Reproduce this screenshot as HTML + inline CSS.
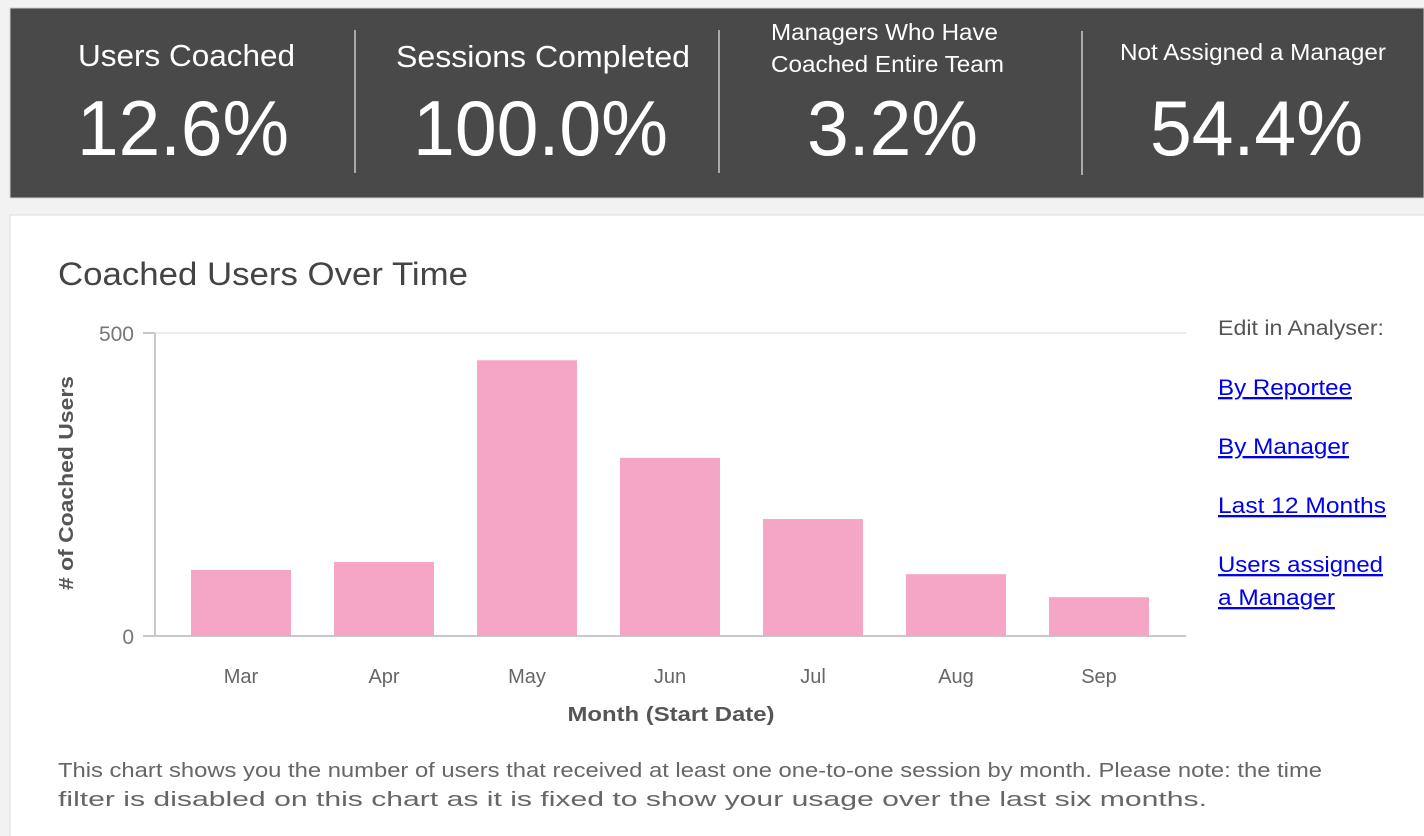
<!DOCTYPE html>
<html><head><meta charset="utf-8"><style>
html,body{margin:0;padding:0;background:#f2f2f2;width:1424px;height:836px;overflow:hidden;font-family:"Liberation Sans",sans-serif}
svg{display:block}
a{cursor:pointer}
</style></head><body>
<svg width="1424" height="836" viewBox="0 0 1424 836" xmlns="http://www.w3.org/2000/svg">
<rect x="0" y="0" width="1424" height="836" fill="#f2f2f2"/>
<g>
<rect x="10" y="8" width="1414" height="190" fill="#494949" stroke="#d0d0d0"/>
<line x1="355" y1="30" x2="355" y2="173" stroke="#aaa" stroke-width="2"/>
<line x1="719" y1="30" x2="719" y2="173" stroke="#aaa" stroke-width="2"/>
<line x1="1082" y1="31" x2="1082" y2="175" stroke="#aaa" stroke-width="2"/>
<g fill="#fff">
<text x="78" y="66" font-size="31" textLength="217" lengthAdjust="spacingAndGlyphs">Users Coached</text>
<text x="77" y="155" font-size="78" textLength="212" lengthAdjust="spacingAndGlyphs">12.6%</text>
<text x="396" y="67" font-size="31" textLength="294" lengthAdjust="spacingAndGlyphs">Sessions Completed</text>
<text x="413" y="155" font-size="78" textLength="255" lengthAdjust="spacingAndGlyphs">100.0%</text>
<text x="771" y="40" font-size="23" textLength="227" lengthAdjust="spacingAndGlyphs">Managers Who Have</text>
<text x="771" y="72" font-size="23" textLength="233" lengthAdjust="spacingAndGlyphs">Coached Entire Team</text>
<text x="807" y="155" font-size="78" textLength="171" lengthAdjust="spacingAndGlyphs">3.2%</text>
<text x="1120" y="60" font-size="23" textLength="266" lengthAdjust="spacingAndGlyphs">Not Assigned a Manager</text>
<text x="1150" y="155" font-size="78" textLength="213" lengthAdjust="spacingAndGlyphs">54.4%</text>
</g>
</g>
<rect x="10" y="215" width="1420" height="640" fill="#fff" stroke="#dcdcdc"/>
<text x="58" y="285" font-size="32" fill="#444" textLength="410" lengthAdjust="spacingAndGlyphs">Coached Users Over Time</text>
<g id="chart"></g>
<g>
<text x="1218" y="335" font-size="21" fill="#555" textLength="166" lengthAdjust="spacingAndGlyphs">Edit in Analyser:</text>
<g fill="#0000ee" font-size="22" text-decoration="underline">
<a><text x="1218" y="395" textLength="134" lengthAdjust="spacingAndGlyphs" text-decoration="underline">By Reportee</text></a>
<a><text x="1218" y="454" textLength="131" lengthAdjust="spacingAndGlyphs" text-decoration="underline">By Manager</text></a>
<a><text x="1218" y="513" textLength="168" lengthAdjust="spacingAndGlyphs" text-decoration="underline">Last 12 Months</text></a>
<a><text x="1218" y="572" textLength="165" lengthAdjust="spacingAndGlyphs" text-decoration="underline">Users assigned</text><text x="1218" y="605" textLength="117" lengthAdjust="spacingAndGlyphs" text-decoration="underline">a Manager</text></a>
</g>
</g>
<g fill="#666" font-size="20">
<text x="58" y="777" textLength="1264" lengthAdjust="spacingAndGlyphs">This chart shows you the number of users that received at least one one-to-one session by month. Please note: the time</text>
<text x="58" y="806" textLength="1149" lengthAdjust="spacingAndGlyphs">filter is disabled on this chart as it is fixed to show your usage over the last six months.</text>
</g>
</svg>
<script>
const categories = ["Mar","Apr","May","Jun","Jul","Aug","Sep"];
const values = [109,122,455,294,193,102,64];
const yTicks = [0,500];
const yMax = 500;
(function(){
  const NS="http://www.w3.org/2000/svg";
  const g=document.getElementById('chart');
  const x0=155,x1=1186,y0=636,y1=333;
  const firstCenter=241,step=143,bw=100;
  const y=v=>y0-(v/yMax)*(y0-y1);
  const x=i=>firstCenter+i*step;
  function mk(tag,attrs){const e=document.createElementNS(NS,tag);for(const k in attrs)e.setAttribute(k,attrs[k]);g.appendChild(e);return e;}
  yTicks.forEach(t=>{
    const ln=mk('line',{x1:t===0?x0:x0,x2:x1,y1:y(t),y2:y(t),stroke:t===0?'#c8c8c8':'#ebebeb','stroke-width':2});
    
    
    const tk=mk('line',{x1:x0-12,x2:x0,y1:y(t),y2:y(t),stroke:'#c8c8c8','stroke-width':2});
    
    
    const lb=mk('text',{x:x0-21,y:y(t)+8,'text-anchor':'end','font-size':21,fill:'#777'});
    lb.textContent=t;
    
    
  });
  const ax=mk('line',{x1:x0,x2:x0,y1:y1,y2:y0,stroke:'#c8c8c8','stroke-width':2});
  
  
  categories.forEach((c,i)=>{
    const r=mk('rect',{x:x(i)-bw/2,y:y(values[i]),width:bw,height:y0-y(values[i]),fill:'#f5a5c6'});
    
    
    const t=mk('text',{x:x(i),y:683,'text-anchor':'middle','font-size':20,fill:'#666'});
    t.textContent=c;
    
    
  });
  const xt=mk('text',{x:671,y:721,'text-anchor':'middle','font-size':20,'font-weight':'bold',fill:'#555',textLength:207,lengthAdjust:'spacingAndGlyphs'});
  xt.textContent='Month (Start Date)';
  
  
  const yt=mk('text',{x:0,y:0,'text-anchor':'middle','font-size':20,'font-weight':'bold',fill:'#555',transform:'translate(73,483) rotate(-90)',textLength:214,lengthAdjust:'spacingAndGlyphs'});
  yt.textContent='# of Coached Users';
  
  
})();
</script>
</body></html>
